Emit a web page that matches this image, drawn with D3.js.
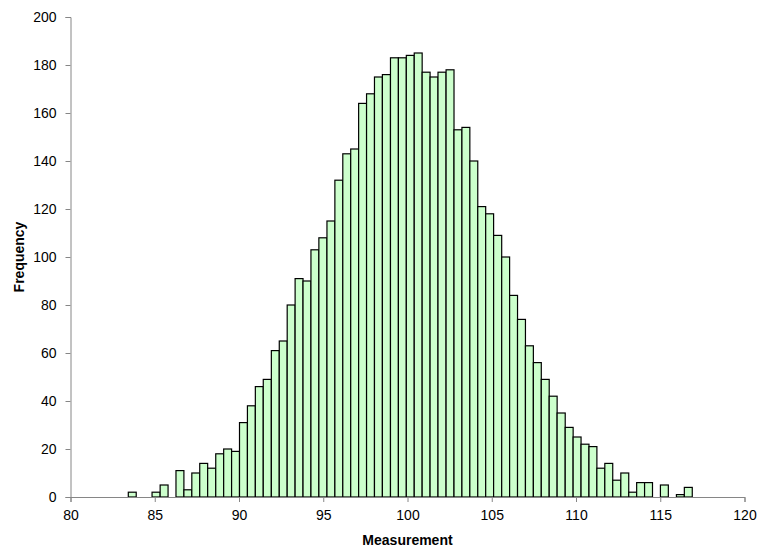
<!DOCTYPE html>
<html>
<head>
<meta charset="utf-8">
<script src="https://cdn.jsdelivr.net/npm/d3@7"></script>
<style>
  html, body { margin: 0; padding: 0; background: #fff; }
  svg { display: block; }
  .tick text { font-family: "Liberation Sans Narrow", "Liberation Sans", Arial, sans-serif; font-size: 14px; fill: #000; }
  .title { font-family: "Liberation Sans Narrow", "Liberation Sans", Arial, sans-serif; font-size: 14px; font-weight: bold; fill: #000; }
</style>
</head>
<body>
<svg id="chart" width="766" height="554"></svg>
<script>
// Bin edges (Measurement) — 71 bins
const binEdges = [83.43, 83.90, 84.37, 84.84, 85.32, 85.79, 86.26, 86.73, 87.20, 87.67,
  88.14, 88.62, 89.09, 89.56, 90.03, 90.50, 90.97, 91.44, 91.92, 92.39,
  92.86, 93.33, 93.80, 94.27, 94.74, 95.22, 95.69, 96.16, 96.63, 97.10,
  97.57, 98.04, 98.51, 98.99, 99.46, 99.93, 100.40, 100.87, 101.34, 101.81,
  102.29, 102.76, 103.23, 103.70, 104.17, 104.64, 105.11, 105.59, 106.06, 106.53,
  107.00, 107.47, 107.94, 108.41, 108.88, 109.36, 109.83, 110.30, 110.77, 111.24,
  111.71, 112.18, 112.66, 113.13, 113.60, 114.07, 114.54, 115.01, 115.48, 115.96,
  116.43, 116.90];

// Frequency per bin
const frequency = [2, 0, 0, 2, 5, 0, 11, 3, 10, 14,
  12, 18, 20, 19, 31, 38, 46, 49, 61, 65,
  80, 91, 90, 103, 108, 115, 132, 143, 145, 164,
  168, 175, 176, 183, 183, 184, 185, 177, 175, 177,
  178, 153, 154, 140, 121, 118, 109, 100, 84, 74,
  63, 56, 49, 42, 35, 29, 25, 22, 21, 12,
  14, 7, 10, 2, 6, 6, 0, 5, 0, 1,
  4];

const xTicks = [80, 85, 90, 95, 100, 105, 110, 115, 120];
const yTicks = [0, 20, 40, 60, 80, 100, 120, 140, 160, 180, 200];
const xLabel = "Measurement";
const yLabel = "Frequency";

const bins = frequency.map((f, i) => ({ x0: binEdges[i], x1: binEdges[i + 1], f }));

const svg = d3.select("#chart");
const margin = { left: 70.5, right: 21.5, top: 17, bottom: 57 };
const W = 766, H = 554;

const x = d3.scaleLinear().domain([80, 120]).range([margin.left, W - margin.right]);
const y = d3.scaleLinear().domain([0, 200]).range([H - margin.bottom, margin.top]);

// bars
svg.append("g")
  .selectAll("rect")
  .data(bins)
  .join("rect")
  .attr("x", d => x(d.x0))
  .attr("width", d => x(d.x1) - x(d.x0))
  .attr("y", d => y(d.f))
  .attr("height", d => y(0) - y(d.f))
  .attr("fill", "#ccffcc")
  .attr("stroke", "#000")
  .attr("stroke-width", 1.2);

// y axis
const yAxis = svg.append("g")
  .attr("transform", `translate(${margin.left},0)`)
  .call(d3.axisLeft(y).tickValues(yTicks).tickSize(5).tickPadding(9).tickFormat(d3.format("d")));
yAxis.select(".domain").attr("stroke", "#868686");
yAxis.selectAll(".tick line").attr("stroke", "#868686");

// x axis
const xAxis = svg.append("g")
  .attr("transform", `translate(0,${y(0)})`)
  .call(d3.axisBottom(x).tickValues(xTicks).tickSize(5).tickPadding(8).tickFormat(d3.format("d")));
xAxis.select(".domain").attr("stroke", "#868686");
xAxis.selectAll(".tick line").attr("stroke", "#868686");

// titles
svg.append("text")
  .attr("class", "title")
  .attr("x", (x(80) + x(120)) / 2)
  .attr("y", 545)
  .attr("text-anchor", "middle")
  .text(xLabel);

svg.append("text")
  .attr("class", "title")
  .attr("transform", `translate(24,${(y(0) + y(200)) / 2}) rotate(-90)`)
  .attr("text-anchor", "middle")
  .text(yLabel);
</script>
</body>
</html>
